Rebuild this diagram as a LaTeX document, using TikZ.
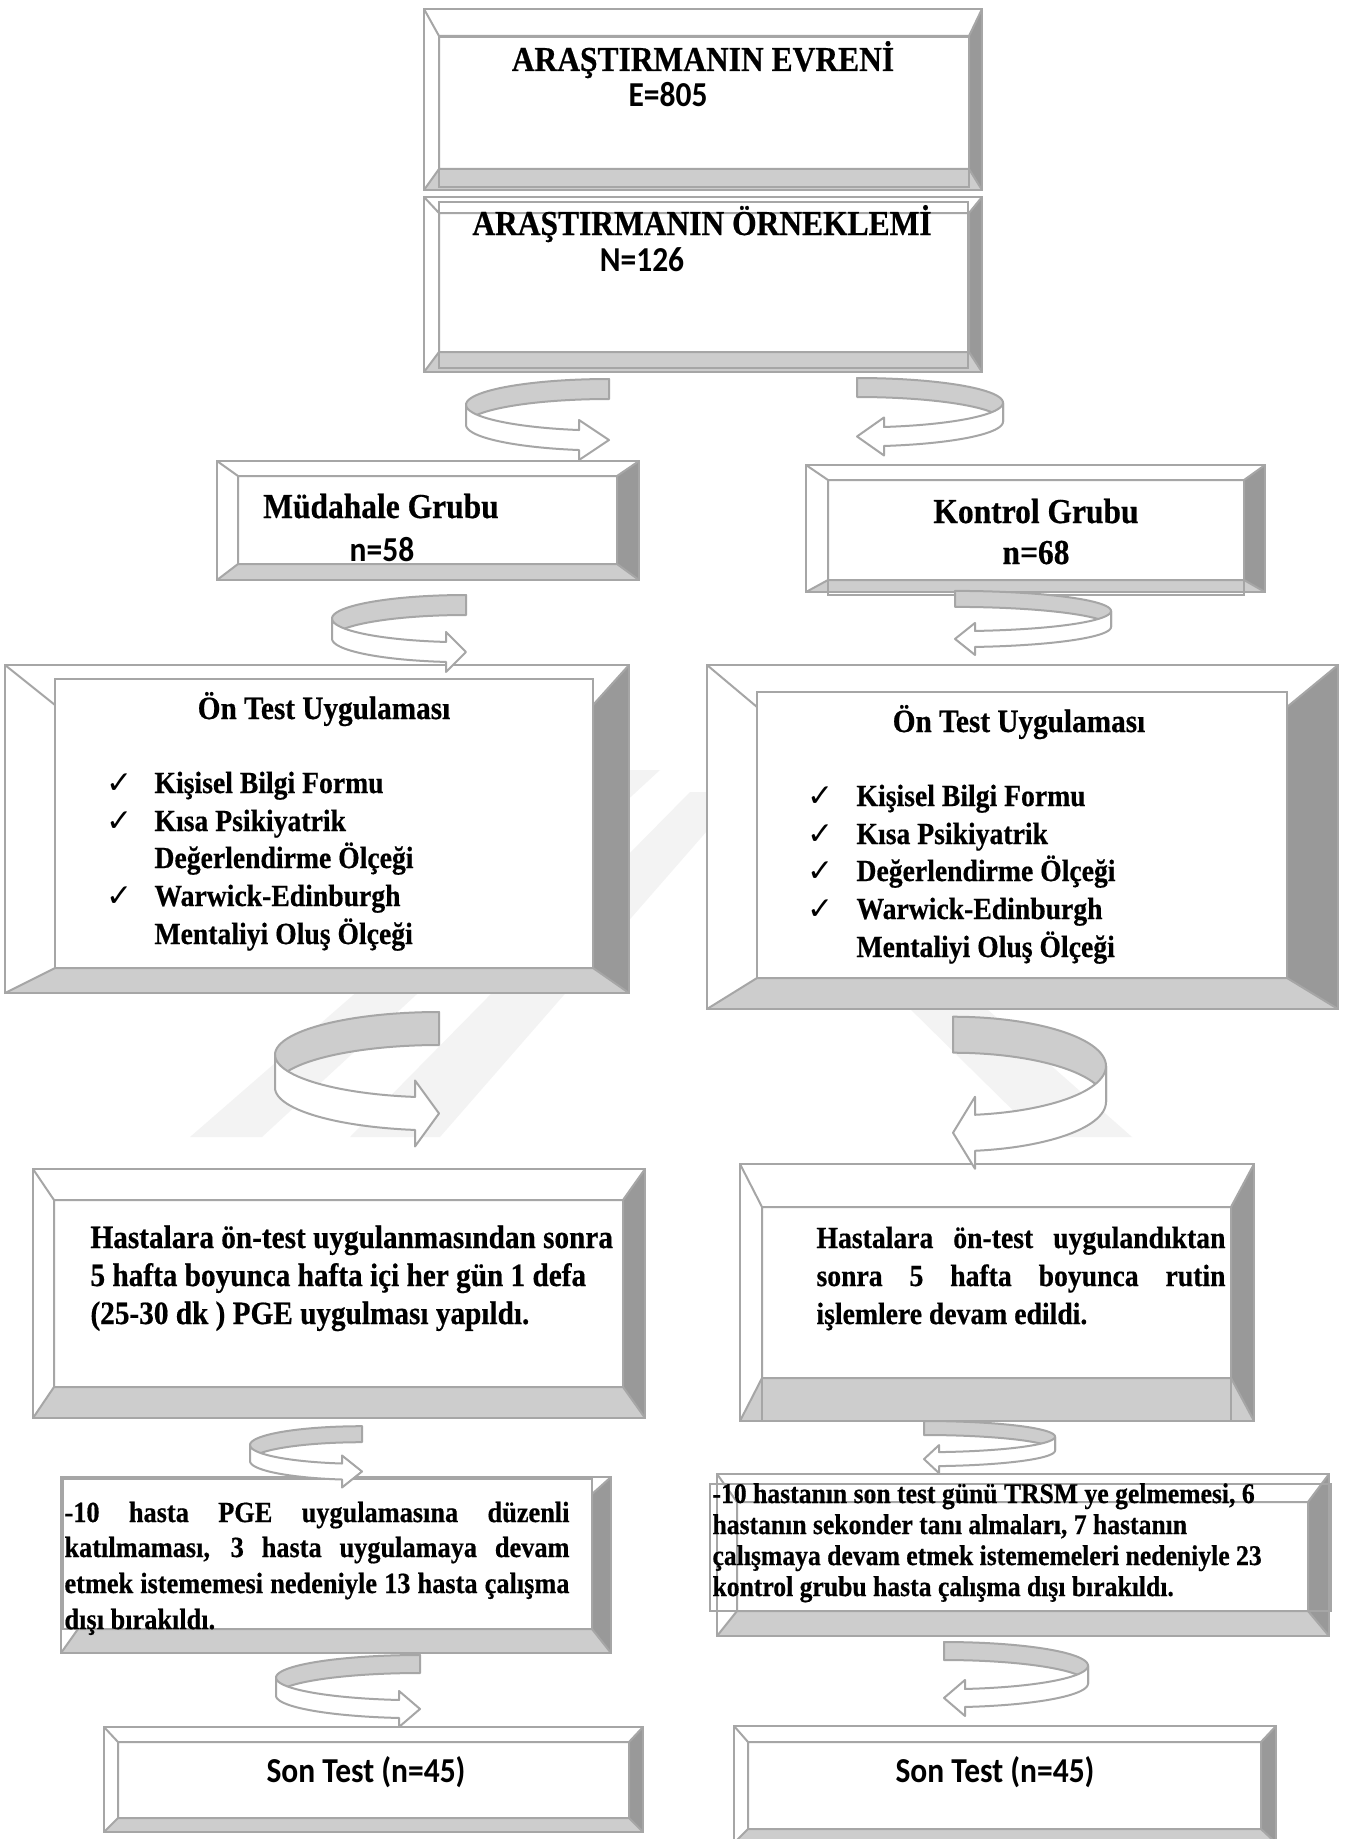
\documentclass[tikz,border=0pt]{standalone}
\usepackage{fontspec}
\setmainfont[FakeStretch=0.9, BoldFeatures={FakeBold=0.5}]{Liberation Serif}
\newfontfamily\calib[FakeStretch=0.9]{Carlito}
\newfontfamily\symf{DejaVu Sans}
\usetikzlibrary{fit}
\definecolor{edgegray}{RGB}{166,166,166}
\definecolor{bevdark}{RGB}{153,153,153}
\definecolor{bevlight}{RGB}{205,205,205}
\definecolor{arrgray}{RGB}{205,205,205}
\definecolor{wmgray}{RGB}{243,243,243}
\newcommand{\px}{0.4pt}
\newcommand{\uturn}[7]{%
  \pgfmathsetmacro{\ual}{270-asin(#6/#3)}%
  \pgfmathsetmacro{\uxb}{#1+#7*#3*cos(\ual)}%
  \pgfmathsetmacro{\uyb}{#2-#4*sin(\ual)}%
  \draw[arrline, fill=arrgray] plot[domain=90:180] ({#1+#7*#3*cos(\x)}, {#2-#4*sin(\x)})
    -- plot[domain=180:90] ({#1+#7*#3*cos(\x)}, {#2-#4*sin(\x)+#5}) -- cycle;
  \draw[arrline, fill=white] plot[domain=180:\ual] ({#1+#7*#3*cos(\x)}, {#2-#4*sin(\x)})
    -- ({\uxb},{\uyb-#5/2}) -- ({#1},{\uyb+#5/2}) -- ({\uxb},{\uyb+1.5*#5})
    -- plot[domain=\ual:180] ({#1+#7*#3*cos(\x)}, {#2-#4*sin(\x)+#5}) -- cycle;
}
\tikzset{
  bevelbox/.style n args={4}{draw=edgegray, line width=0.8pt, fill=white, inner sep=0pt,
    path picture={
      \path (path picture bounding box.north west) coordinate (bo1)
            (path picture bounding box.south east) coordinate (bo2)
            ([xshift=#1*\px, yshift=-#2*\px]bo1) coordinate (bi1)
            ([xshift=-#3*\px, yshift=#4*\px]bo2) coordinate (bi2);
      \fill[bevdark] (bo1 -| bo2) -- (bo2) -- (bi2) -- (bi1 -| bi2) -- cycle;
      \fill[bevlight] (bo1 |- bo2) -- (bo2) -- (bi2) -- (bi1 |- bi2) -- cycle;
      \draw[edgegray, line width=0.8pt] (bi1) rectangle (bi2)
        (bo1) -- (bi1) (bo1 -| bo2) -- (bi1 -| bi2) (bo2) -- (bi2) (bo1 |- bo2) -- (bi1 |- bi2);
    }},
  frame/.style={draw=edgegray, line width=0.8pt, inner sep=0pt},
  framew/.style={frame, fill=white},
  arrline/.style={draw=edgegray, line width=0.8pt, line join=round, samples=30},
  ttl/.style={font=\bfseries\fontsize{14}{17}\selectfont, inner sep=0pt, anchor=base},
  cnum/.style={font=\calib\bfseries\fontsize{14}{17}\selectfont, inner sep=0pt, anchor=base},
  hd/.style={font=\bfseries\fontsize{13}{16}\selectfont, inner sep=0pt, anchor=base},
  item/.style={font=\bfseries\fontsize{12.3}{15}\selectfont, inner sep=0pt, anchor=base west},
  chk/.style={font=\symf\fontsize{12.5}{15}\selectfont, inner sep=0pt, anchor=base west},
  txtA/.style={font=\bfseries\fontsize{13}{16}\selectfont, inner sep=0pt, anchor=base west},
  txtB/.style={font=\bfseries\fontsize{12.3}{15}\selectfont, inner sep=0pt, anchor=base west},
  txtC/.style={font=\bfseries\fontsize{11.7}{14}\selectfont, inner sep=0pt, anchor=base west},
  txtD/.style={font=\bfseries\fontsize{11.4}{14}\selectfont, inner sep=0pt, anchor=base west}
}

\begin{document}
\begin{tikzpicture}[x=0.4pt, y=-0.4pt]
  \useasboundingbox (0,0) rectangle (1347,1839);
  \fill[white] (0,0) rectangle (1347,1839);
  % watermark
  \fill[wmgray] (190,1137) -- (262,1137) -- (660,770) -- (612,770) -- cycle;
  \fill[wmgray] (350,1137) -- (440,1137) -- (741,792) -- (690,792) -- cycle;
  \fill[wmgray] (690,792) -- (741,792) -- (1132,1137) -- (1040,1137) -- cycle;

  \node[bevelbox={15}{27}{13}{21}, fit={(424,9) (982,190)}] (evren) {};
  \node[frame, fit={(439,37) (969,187)}] (evrenF) {};
  \node[bevelbox={15}{16}{13}{20}, fit={(424,197) (982,372)}] (ornek) {};
  \node[frame, fit={(439,202) (968,368)}] (ornekF) {};
  \node[bevelbox={21}{15}{22}{16}, fit={(217,461) (639,580)}] (mud) {};
  \node[bevelbox={22}{15}{21}{12}, fit={(806,465) (1265,592)}] (kon) {};
  \node[frame, fit={(828,480) (1244,595)}] (konF) {};
  \node[bevelbox={50}{40}{36}{25}, fit={(5,665) (629,993)}] (ontL) {};
  \node[framew, fit={(55,679) (593,968)}] (ontLF) {};
  \node[bevelbox={50}{42}{51}{31}, fit={(707,665) (1338,1009)}] (ontR) {};
  \node[framew, fit={(757,692) (1287,978)}] (ontRF) {};
  \node[bevelbox={21}{31}{22}{31}, fit={(33,1169) (645,1418)}] (hasL) {};
  \node[bevelbox={22}{43}{23}{43}, fit={(740,1164) (1254,1421)}] (hasR) {};
  \node[frame, fit={(762,1207) (1231,1421)}] (hasRF) {};
  \node[bevelbox={17}{17}{19}{24}, fit={(61,1477) (611,1653)}] (excL) {};
  \node[framew, fit={(63,1479) (592,1629)}] (excLF) {};
  \node[bevelbox={20}{28}{21}{25}, fit={(717,1474) (1329,1636)}] (excR) {};
  \node[frame, fit={(710,1484) (1331,1611)}] (excRF) {};
  \node[bevelbox={14}{15}{14}{14}, fit={(104,1727) (643,1832)}] (sonL) {};
  \node[bevelbox={14}{16}{15}{14}, fit={(734,1726) (1276,1843)}] (sonR) {};

  \node[ttl] (evrenT) at (703,71) {ARAŞTIRMANIN EVRENİ};
  \node[cnum] (evrenN) at (668,107) {E=805};
  \node[ttl] (ornekT) at (702,235) {ARAŞTIRMANIN ÖRNEKLEMİ};
  \node[cnum] (ornekN) at (642,271) {N=126};
  \node[ttl] (mudT) at (381,518) {Müdahale Grubu};
  \node[cnum] (mudN) at (382,561) {n=58};
  \node[ttl] (konT) at (1036,523) {Kontrol Grubu};
  \node[ttl] (konN) at (1036,564) {n=68};

  \node[hd] (ontLT) at (324,719) {Ön Test Uygulaması};
  \foreach \yy/\txt [count=\i] in {793/Kişisel Bilgi Formu, 831/Kısa Psikiyatrik,
      868/Değerlendirme Ölçeği, 906/Warwick-Edinburgh, 944/Mentaliyi Oluş Ölçeği}
    \node[item] (lstL\i) at (154,\yy) {\txt};
  \foreach \yy [count=\i] in {793,831,906}
    \node[chk] (chkL\i) at (106,\yy) {✓};
  \node[hd] (ontRT) at (1019,732) {Ön Test Uygulaması};
  \foreach \yy/\txt [count=\i] in {806/Kişisel Bilgi Formu, 844/Kısa Psikiyatrik,
      881/Değerlendirme Ölçeği, 919/Warwick-Edinburgh, 957/Mentaliyi Oluş Ölçeği}
    \node[item] (lstR\i) at (856,\yy) {\txt};
  \foreach \yy [count=\i] in {806,844,881,919}
    \node[chk] (chkR\i) at (807,\yy) {✓};

  \node[txtA] (hasL1) at (90,1248) {Hastalara ön-test uygulanmasından sonra};
  \node[txtA] (hasL2) at (90,1286) {5 hafta boyunca hafta içi her gün 1 defa};
  \node[txtA] (hasL3) at (90,1324) {(25-30 dk ) PGE uygulması yapıldı.};
  \node[txtB] (hasR1) at (816,1248) {\makebox[163.6pt][s]{Hastalara ön-test uygulandıktan}};
  \node[txtB] (hasR2) at (816,1286) {\makebox[163.6pt][s]{sonra 5 hafta boyunca rutin}};
  \node[txtB] (hasR3) at (816,1324) {işlemlere devam edildi.};

  \node[txtC] (excL1) at (64,1522) {\makebox[202pt][s]{-10 hasta PGE uygulamasına düzenli}};
  \node[txtC] (excL2) at (64,1557) {\makebox[202pt][s]{katılmaması, 3 hasta uygulamaya devam}};
  \node[txtC] (excL3) at (64,1593) {\makebox[202pt][s]{etmek istememesi nedeniyle 13 hasta çalışma}};
  \node[txtC] (excL4) at (64,1629) {dışı bırakıldı.};
  \node[txtD] (excR1) at (712,1503) {-10 hastanın son test günü TRSM ye gelmemesi, 6};
  \node[txtD] (excR2) at (712,1534) {hastanın sekonder tanı almaları, 7 hastanın};
  \node[txtD] (excR3) at (712,1565) {çalışmaya devam etmek istememeleri nedeniyle 23};
  \node[txtD] (excR4) at (712,1596) {kontrol grubu hasta çalışma dışı bırakıldı.};

  \node[cnum] (sonLT) at (366,1782) {Son Test (n=45)};
  \node[cnum] (sonRT) at (995,1782) {Son Test (n=45)};

  % ornek -> mud / kon
  \uturn{609}{404.8}{143}{25.8}{20}{30}{1}
  \uturn{857}{402.7}{146}{24.7}{19}{27}{-1}
  % mud -> ontL, kon -> ontR
  \uturn{466}{618.6}{134}{23.6}{20}{20}{1}
  \uturn{955}{611}{156}{20.1}{16}{20}{-1}
  % ontL -> hasL, ontR -> hasR
  \uturn{439}{1054.7}{164}{42.7}{33}{24}{1}
  \uturn{953}{1066}{153}{49.3}{36}{22}{-1}
  % hasL -> excL, hasR -> excR
  \uturn{362}{1445}{112}{18.8}{16}{20}{1}
  \uturn{924}{1436.6}{131}{15.6}{14}{15}{-1}
  % excL -> sonL, excR -> sonR
  \uturn{420}{1677.6}{144}{22.6}{18}{21}{1}
  \uturn{944}{1665.6}{144}{23.6}{18}{21}{-1}
\end{tikzpicture}
\end{document}
